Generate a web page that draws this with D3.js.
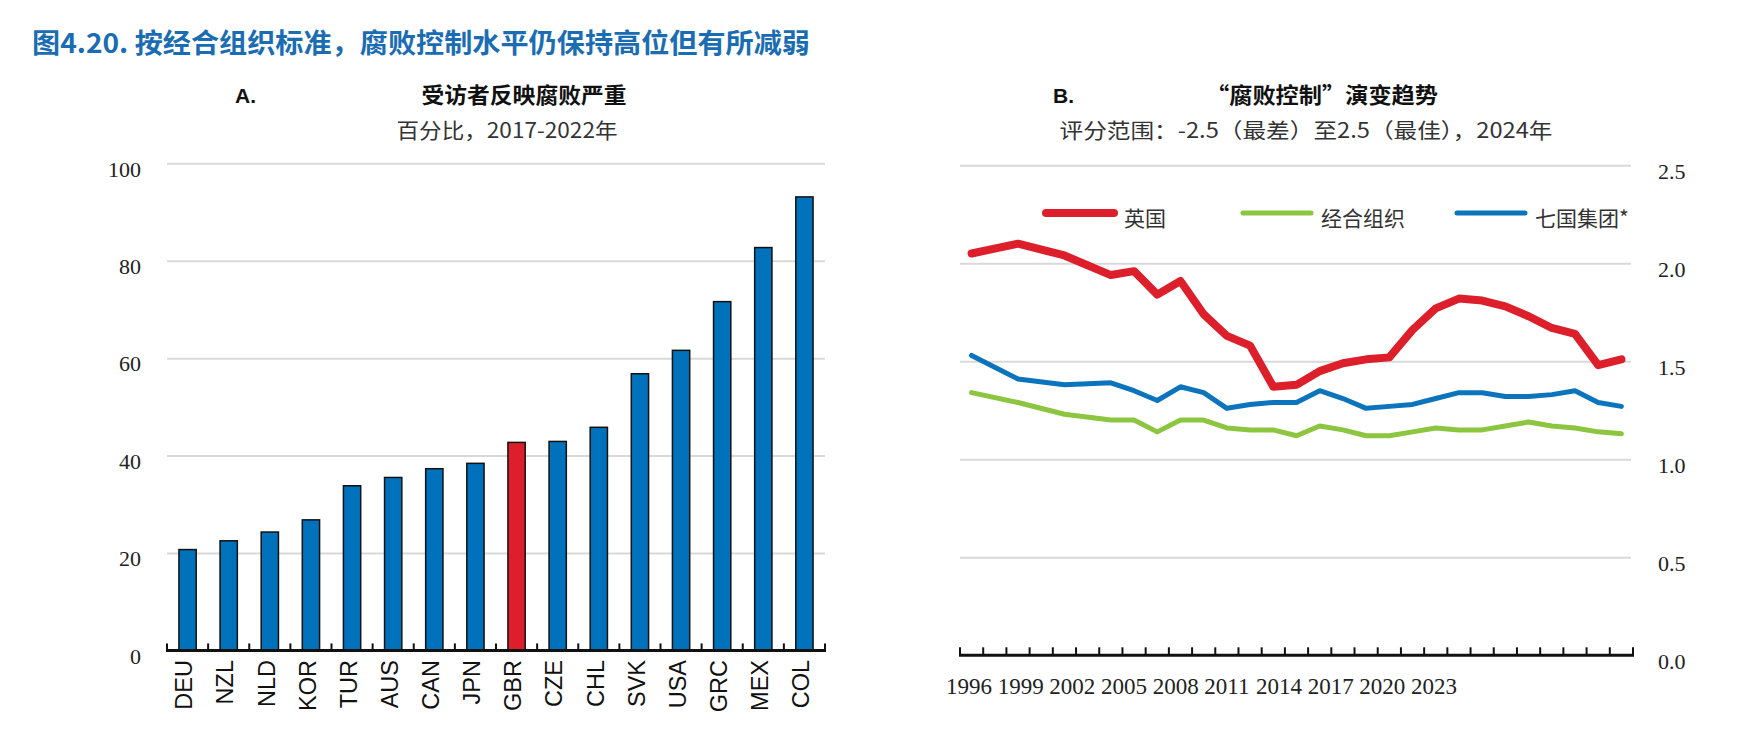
<!DOCTYPE html>
<html><head><meta charset="utf-8">
<script src="https://cdn.jsdelivr.net/npm/d3@7"></script>
<style>body{margin:0;background:#fff} svg{display:block}</style>
</head><body>
<svg id="c" width="1738" height="735"></svg>
<script>
// ---------- Data: Panel A ----------
const countries = ["DEU","NZL","NLD","KOR","TUR","AUS","CAN","JPN","GBR","CZE","CHL","SVK","USA","GRC","MEX","COL"];
const shares = [20.7,22.5,24.3,26.8,33.8,35.5,37.3,38.4,42.7,42.9,45.8,56.8,61.6,71.6,82.7,93.1];
const highlightCountry = "GBR";
const yTicksA = [0,20,40,60,80,100];

// ---------- Data: Panel B ----------
const years = [1996,1997,1998,1999,2000,2001,2002,2003,2004,2005,2006,2007,2008,2009,2010,
               2011,2012,2013,2014,2015,2016,2017,2018,2019,2020,2021,2022,2023,2024];
const ukValues   = [2.05,null,2.10,null,2.04,null,1.94,1.96,1.84,1.91,1.74,1.63,1.58,1.37,1.38,
                    1.45,1.49,1.51,1.52,1.66,1.77,1.82,1.81,1.78,1.73,1.67,1.64,1.48,1.51];
const oecdValues = [1.34,null,1.29,null,1.23,null,1.20,1.20,1.14,1.20,1.20,1.16,1.15,1.15,1.12,
                    1.17,1.15,1.12,1.12,1.14,1.16,1.15,1.15,1.17,1.19,1.17,1.16,1.14,1.13];
const g7Values   = [1.53,null,1.41,null,1.38,null,1.39,1.35,1.30,1.37,1.34,1.26,1.28,1.29,1.29,
                    1.35,1.31,1.26,1.27,1.28,1.31,1.34,1.34,1.32,1.32,1.33,1.35,1.29,1.27];
const seriesNames = ["英国","经合组织","七国集团*"];
const yearLabels = ["1996","1999","2002","2005","2008","2011","2014","2017","2020","2023"];
const yTicksB = [0,0.5,1,1.5,2,2.5];

// ---------- Styles ----------
const BLUE = "#0072bc", RED = "#dc1f2a", GREEN = "#8cc540", LBLUE = "#0b74bd";
const GRID = "#d9d9d9";
const CJK = "'Noto Sans CJK SC', sans-serif";
const SERIF = "'Liberation Serif', serif";
const SANS = "'Liberation Sans', Arial, sans-serif";

const svg = d3.select("#c");
svg.append("rect").attr("width",1738).attr("height",735).attr("fill","#fff");

function fitText(sel, w){
  const n = sel.node(); const L = n.getComputedTextLength();
  if (Math.abs(L - w) > 2) sel.attr("textLength", w).attr("lengthAdjust","spacingAndGlyphs");
}

// ---------- Main title ----------
const title = svg.append("text").attr("x",32).attr("y",53)
  .attr("font-family",CJK).attr("font-weight",700).attr("font-size",27).attr("fill","#1b6db3")
  .text("图4.20. 按经合组织标准，腐败控制水平仍保持高位但有所减弱");
fitText(title, 778);

// ---------- Panel A ----------
const xA = d3.scaleBand().domain(countries).range([167,825]).paddingInner(0.58).paddingOuter(0.29);
const yA = d3.scaleLinear().domain([0,100]).range([650.4,163.3]);

svg.append("text").attr("x",235).attr("y",103).attr("font-family",SANS).attr("font-weight",700)
  .attr("font-size",21).attr("fill","#111").text("A.");
const tA = svg.append("text").attr("x",524).attr("y",103).attr("text-anchor","middle")
  .attr("font-family",CJK).attr("font-weight",700).attr("font-size",22).attr("fill","#111").text("受访者反映腐败严重");
fitText(tA, 205);
const sA = svg.append("text").attr("x",507).attr("y",138).attr("text-anchor","middle")
  .attr("font-family",CJK).attr("font-size",21).attr("fill","#333").text("百分比，2017-2022年");
fitText(sA, 221);

const gyA = svg.append("g").attr("transform","translate(167,0)")
  .call(d3.axisLeft(yA).tickValues(yTicksA).tickSize(-658).tickPadding(26));
gyA.select(".domain").remove();
gyA.selectAll(".tick line").attr("stroke",GRID).attr("stroke-width",2)
  .filter(d => d === 0).remove();
gyA.selectAll(".tick text").attr("font-family",SERIF).attr("font-size",22).attr("fill","#222").attr("dy","0.58em");

svg.append("g").selectAll("rect").data(countries).join("rect")
  .attr("x", d => xA(d)).attr("width", xA.bandwidth())
  .attr("y", (d,i) => yA(shares[i])).attr("height", (d,i) => yA(0) - yA(shares[i]))
  .attr("fill", d => d === highlightCountry ? RED : BLUE)
  .attr("stroke","#111").attr("stroke-width",1.5);

// x axis A
const stepA = xA.step();
const boundsA = countries.map(c => xA(c) - stepA*xA.paddingInner()/2).concat([xA.range()[1]]);
const gxA = svg.append("g");
gxA.append("line").attr("x1",xA.range()[0]-1).attr("x2",xA.range()[1]+1)
  .attr("y1",yA(0)).attr("y2",yA(0)).attr("stroke","#111").attr("stroke-width",3);
gxA.selectAll(".tk").data(boundsA).join("line").attr("class","tk")
  .attr("x1",d=>d).attr("x2",d=>d).attr("y1",yA(0)).attr("y2",yA(0)-7)
  .attr("stroke","#111").attr("stroke-width",2);
gxA.selectAll(".lbl").data(countries).join("text").attr("class","lbl")
  .attr("transform", d => `translate(${xA(d)+xA.bandwidth()/2},660) rotate(-90)`)
  .attr("text-anchor","end").attr("dy","0.2em")
  .attr("font-family",SANS).attr("font-size",23.5).attr("fill","#111").text(d => d);

// ---------- Panel B ----------
const xB = d3.scaleBand().domain(years).range([960,1633]);
const yB = d3.scaleLinear().domain([0,2.5]).range([655.3,165.3]);

svg.append("text").attr("x",1053).attr("y",103).attr("font-family",SANS).attr("font-weight",700)
  .attr("font-size",21).attr("fill","#111").text("B.");
const tB = svg.append("text").attr("x",1322).attr("y",103).attr("text-anchor","middle")
  .attr("font-family",CJK).attr("font-weight",700).attr("font-size",22).attr("fill","#111").text("“腐败控制”演变趋势");
fitText(tB, 232);
const sB = svg.append("text").attr("x",1306).attr("y",138).attr("text-anchor","middle")
  .attr("font-family",CJK).attr("font-size",21).attr("fill","#333").text("评分范围：-2.5（最差）至2.5（最佳），2024年");
fitText(sB, 493);

const gyB = svg.append("g").attr("transform","translate(1631,0)")
  .call(d3.axisRight(yB).tickValues(yTicksB).tickFormat(d3.format(".1f")).tickSize(-671).tickPadding(27));
gyB.select(".domain").remove();
gyB.selectAll(".tick line").attr("stroke",GRID).attr("stroke-width",2)
  .filter(d => d === 0).remove();
gyB.selectAll(".tick text").attr("font-family",SERIF).attr("font-size",22).attr("fill","#222").attr("dy","0.58em");

// x axis B
const boundsB = years.map(y => xB(y)).concat([xB.range()[1]]);
const gxB = svg.append("g");
gxB.append("line").attr("x1",xB.range()[0]-1).attr("x2",xB.range()[1]+1)
  .attr("y1",yB(0)).attr("y2",yB(0)).attr("stroke","#111").attr("stroke-width",3);
gxB.selectAll(".tk").data(boundsB).join("line").attr("class","tk")
  .attr("x1",d=>d).attr("x2",d=>d).attr("y1",yB(0)).attr("y2",yB(0)-8)
  .attr("stroke","#111").attr("stroke-width",2);
const xLab = d3.scalePoint().domain(yearLabels).range([946,1411]);
gxB.selectAll(".lbl").data(yearLabels).join("text").attr("class","lbl")
  .attr("x", d => xLab(d)).attr("y",694)
  .attr("font-family",SERIF).attr("font-size",23).attr("fill","#222").text(d => d);

// lines
const series = [
  {name: seriesNames[1], values: oecdValues, color: GREEN, w: 5},
  {name: seriesNames[2], values: g7Values, color: LBLUE, w: 5},
  {name: seriesNames[0], values: ukValues, color: RED, w: 8}
];
const line = d3.line().x(d => xB(d.year) + xB.bandwidth()/2).y(d => yB(d.v));
series.forEach(s => {
  const pts = years.map((y,i) => ({year:y, v:s.values[i]})).filter(d => d.v != null);
  svg.append("path").datum(pts).attr("d", line).attr("fill","none")
    .attr("stroke", s.color).attr("stroke-width", s.w)
    .attr("stroke-linejoin","round").attr("stroke-linecap","round");
});

// legend
const legend = [
  {name: seriesNames[0], color: RED, w: 8, x: 1042},
  {name: seriesNames[1], color: GREEN, w: 5, x: 1239},
  {name: seriesNames[2], color: LBLUE, w: 5, x: 1453}
];
const lg = svg.append("g");
legend.forEach(l => {
  lg.append("line").attr("x1", l.x+4).attr("x2", l.x+72).attr("y1",213).attr("y2",213)
    .attr("stroke", l.color).attr("stroke-width", l.w).attr("stroke-linecap","round");
  lg.append("text").attr("x", l.x+82).attr("y",226).attr("font-family",CJK).attr("font-size",21)
    .attr("fill","#333").text(l.name);
});
</script>
</body></html>
